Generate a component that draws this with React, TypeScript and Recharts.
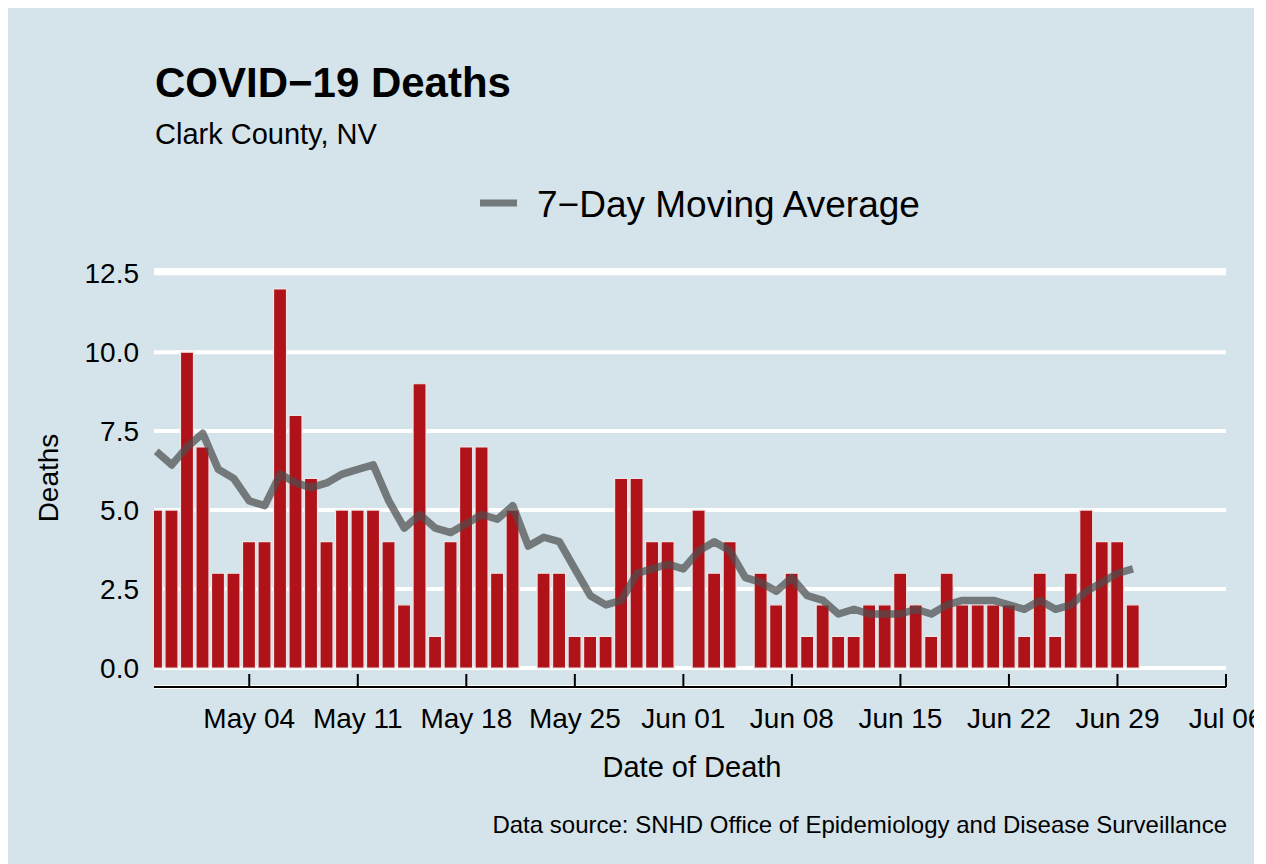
import React from 'react';
import { ComposedChart, Bar, Line, XAxis, YAxis, CartesianGrid } from 'recharts';

// daily deaths, Apr 28 .. Jun 30
const deaths = [
  5, 5, 10,
  7, 3, 3, 4, 4, 12, 8, 6, 4, 5,
  5, 5, 4, 2, 9, 1, 4, 7, 7, 3,
  5, 0, 3, 3, 1, 1, 1, 6, 6, 4, 4,
  0, 5, 3, 4, 0, 3, 2, 3, 1, 2,
  1, 1, 2, 2, 3, 2, 1, 3, 2, 2,
  2, 2, 1, 3, 1, 3, 5, 4, 4, 2,
];

// 7-day moving average, same days
const movingAvg = [
  6.86, 6.43, 7.0,
  7.43, 6.29, 6.0, 5.29, 5.14, 6.14, 5.86, 5.71, 5.86, 6.14,
  6.29, 6.43, 5.29, 4.43, 4.86, 4.43, 4.29, 4.57, 4.86, 4.71,
  5.14, 3.86, 4.14, 4.0, 3.14, 2.29, 2.0, 2.14, 3.0, 3.14, 3.29,
  3.14, 3.71, 4.0, 3.71, 2.86, 2.71, 2.43, 2.86, 2.29, 2.14,
  1.71, 1.86, 1.71, 1.71, 1.71, 1.86, 1.71, 2.0, 2.14, 2.14,
  2.14, 2.0, 1.86, 2.14, 1.86, 2.0, 2.43, 2.71, 3.0, 3.14,
];

// x ticks: days after Apr 28
const tickDays = [6, 13, 20, 27, 34, 41, 48, 55, 62, 69];
const tickLabels = ['May 04', 'May 11', 'May 18', 'May 25', 'Jun 01', 'Jun 08', 'Jun 15', 'Jun 22', 'Jun 29', 'Jul 06'];
const yTicks = [0, 2.5, 5, 7.5, 10, 12.5];

const data = deaths.map((d, i) => ({ day: i, deaths: d, avg: movingAvg[i] }));

const FONT = '"Liberation Sans", Arial, Helvetica, sans-serif';
const BG = '#d5e4eb';

const XTick = ({ x, y, payload }: any) => {
  const idx = tickDays.indexOf(payload.value);
  return (
    <g>
      <line x1={x} x2={x} y1={y - 13} y2={y} stroke="#000" strokeWidth={2} />
      <text x={x} y={y + 41} textAnchor="middle" fontSize={28} fill="#000" fontFamily={FONT}>
        {idx >= 0 ? tickLabels[idx] : ''}
      </text>
    </g>
  );
};

const YTick = ({ x, y, payload }: any) => (
  <text x={x} y={y + 10} textAnchor="end" fontSize={28} fill="#000" fontFamily={FONT}>
    {Number(payload.value).toFixed(1)}
  </text>
);

const App: React.FC = () => {
  return (
    <div
      style={{
        position: 'relative',
        width: 1247,
        height: 858,
        marginLeft: -1,
        marginTop: -2,
        background: BG,
        overflow: 'hidden',
        fontFamily: FONT,
      }}
    >
      <ComposedChart
        width={1247}
        height={858}
        data={data}
        margin={{ top: 264, right: 28, left: 0, bottom: 117 }}
      >
        <CartesianGrid horizontal vertical={false} stroke="#ffffff" strokeWidth={4} />
        <XAxis
          dataKey="day"
          type="number"
          domain={[-0.144, 69]}
          allowDataOverflow
          ticks={tickDays}
          interval={0}
          height={60}
          tickSize={0}
          tickMargin={0}
          tickLine={false}
          axisLine={{ stroke: '#000', strokeWidth: 2 }}
          tick={<XTick />}
        />
        <YAxis
          type="number"
          domain={[-0.6, 12.6]}
          allowDataOverflow
          ticks={yTicks}
          width={147}
          tickSize={0}
          tickMargin={15}
          tickLine={false}
          axisLine={false}
          tick={<YTick />}
        />
        <Bar
          dataKey="deaths"
          barSize={13}
          fill="#b01219"
          stroke="#ece6e6"
          strokeWidth={1.2}
          isAnimationActive={false}
        />
        <Line
          dataKey="avg"
          type="linear"
          stroke="#4d4d4d"
          strokeOpacity={0.72}
          strokeWidth={7.5}
          strokeLinejoin="round"
          dot={false}
          activeDot={false}
          isAnimationActive={false}
        />
      </ComposedChart>
      <svg
        width={1247}
        height={858}
        style={{ position: 'absolute', left: 0, top: 0, pointerEvents: 'none' }}
      >
        <text x={148} y={90.5} fontSize={42} fontWeight="bold" fill="#000" fontFamily={FONT}>
          COVID−19 Deaths
        </text>
        <text x={148} y={138} fontSize={29} fill="#000" fontFamily={FONT}>
          Clark County, NV
        </text>
        <line x1={473} x2={510} y1={197} y2={197} stroke="#4d4d4d" strokeOpacity={0.72} strokeWidth={7} />
        <text x={530} y={211} fontSize={37} fill="#000" fontFamily={FONT}>
          7−Day Moving Average
        </text>
        <text
          transform="translate(51, 472) rotate(-90)"
          textAnchor="middle"
          fontSize={28}
          fill="#000"
          fontFamily={FONT}
        >
          Deaths
        </text>
        <text x={685} y={771} textAnchor="middle" fontSize={29} fill="#000" fontFamily={FONT}>
          Date of Death
        </text>
        <text x={1220} y={827} textAnchor="end" fontSize={24} fill="#000" fontFamily={FONT}>
          Data source: SNHD Office of Epidemiology and Disease Surveillance
        </text>
      </svg>
    </div>
  );
};

export default App;
